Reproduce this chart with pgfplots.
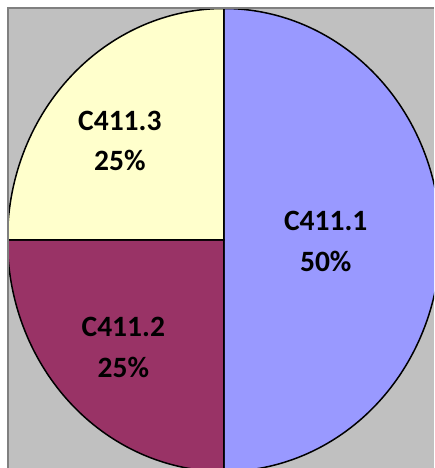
\documentclass[border=0pt]{standalone}
\usepackage{fontspec}
\setmainfont{Carlito}
\usepackage{pgfplots}
\usepackage{pgfplotstable}
\pgfplotsset{compat=1.18}
\definecolor{s1}{HTML}{9999FF}
\definecolor{s2}{HTML}{993366}
\definecolor{s3}{HTML}{FFFFCC}
\definecolor{bg}{HTML}{C0C0C0}
\definecolor{frame}{HTML}{808080}
\pgfplotstableread{
label value
C411.1 50
C411.2 25
C411.3 25
}\piedata
\begin{document}
\begin{tikzpicture}
\pgfplotstablegetelem{0}{value}\of\piedata \edef\va{\pgfplotsretval}
\pgfplotstablegetelem{1}{value}\of\piedata \edef\vb{\pgfplotsretval}
\pgfplotstablegetelem{2}{value}\of\piedata \edef\vc{\pgfplotsretval}
\pgfmathsetmacro\tot{\va+\vb+\vc}
\pgfmathsetmacro\angA{90}
\pgfmathsetmacro\angB{\angA-360*(\va/\tot)}
\pgfmathsetmacro\angC{\angB-360*(\vb/\tot)}
\pgfmathsetmacro\angD{\angC-360*(\vc/\tot)}
\fill[white] (0,0) rectangle (434pt,468pt);
\begin{axis}[at={(7.5pt,0pt)}, anchor=south west, scale only axis,
  width=426.5pt, height=459.5pt, xmin=-1, xmax=0.970, ymin=-0.985, ymax=1,
  axis lines=box, ticks=none,
  axis line style={draw=none},
  axis background/.style={fill=bg}, clip=true]
\addplot[fill=s1, draw=black, line width=1.5pt, domain=\angB:\angA, samples=181] ({cos(x)},{sin(x)}) -- (axis cs:0,0) -- cycle;
\addplot[fill=s2, draw=black, line width=1.5pt, domain=\angC:\angB, samples=91] ({cos(x)},{sin(x)}) -- (axis cs:0,0) -- cycle;
\addplot[fill=s3, draw=black, line width=1.5pt, domain=\angD:\angC, samples=91] ({cos(x)},{sin(x)}) -- (axis cs:0,0) -- cycle;
\tikzset{lab/.style={font=\bfseries\fontsize{29.5}{36}\selectfont, inner sep=0pt, anchor=center}}
\node[lab] at (axis cs:0.470,0.082) {C411.1};
\node[lab] at (axis cs:0.470,-0.091) {50\%};
\node[lab] at (axis cs:-0.465,-0.377) {C411.2};
\node[lab] at (axis cs:-0.465,-0.550) {25\%};
\node[lab] at (axis cs:-0.481,0.515) {C411.3};
\node[lab] at (axis cs:-0.481,0.342) {25\%};
\end{axis}
\draw[frame, line width=2pt] (7.5pt,0pt) -- (7.5pt,459.5pt) -- (434pt,459.5pt);
\pgfresetboundingbox
\path[use as bounding box] (0,0) rectangle (434pt,468pt);
\end{tikzpicture}
\end{document}
